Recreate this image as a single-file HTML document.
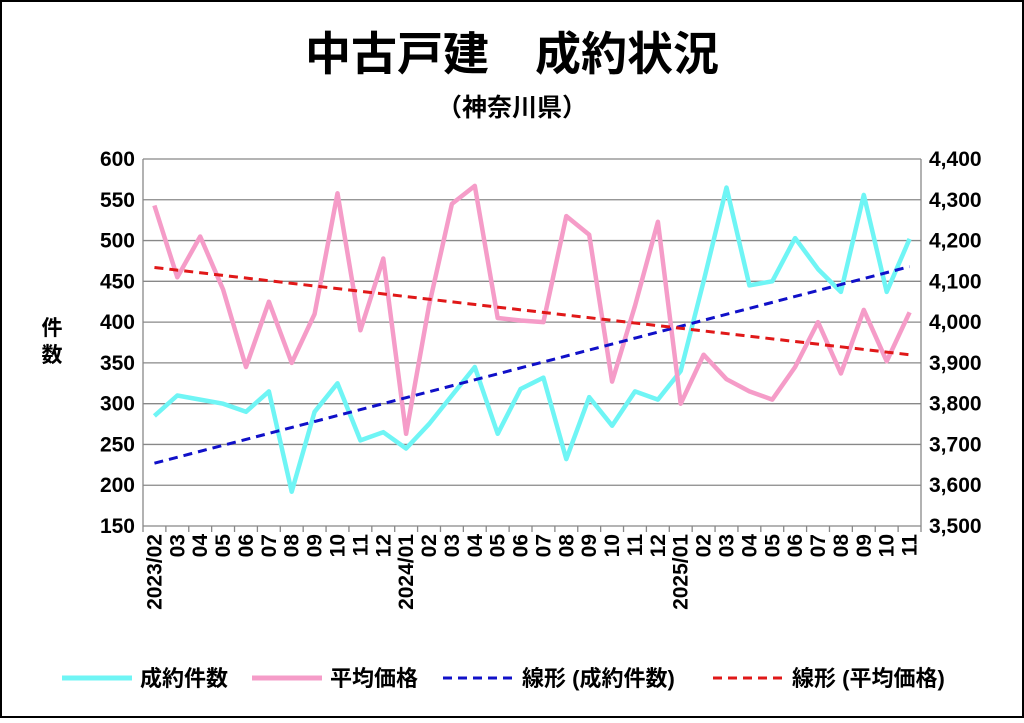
<!DOCTYPE html>
<html><head><meta charset="utf-8"><style>
body{margin:0;background:#fff}
svg text{font-family:"Liberation Sans","Noto Sans CJK JP",sans-serif;fill:#000}
</style></head><body>
<svg width="1024" height="718" viewBox="0 0 1024 718" xmlns="http://www.w3.org/2000/svg">
<rect x="1" y="1" width="1022" height="716" fill="#fff" stroke="#000" stroke-width="2"/>
<text x="512" y="70" font-size="46" font-weight="bold" text-anchor="middle">中古戸建　成約状況</text>
<text x="512" y="116" font-size="25" font-weight="bold" text-anchor="middle">（神奈川県）</text>
<g id="grid" stroke="#888" stroke-width="1.3"></g>
<g id="lab" font-size="21" font-weight="bold"></g>
<text x="52" y="335" font-size="21" font-weight="bold" text-anchor="middle">件</text>
<text x="52" y="362" font-size="21" font-weight="bold" text-anchor="middle">数</text>
<g id="series"></g>
<g font-size="22" font-weight="bold">
<line x1="62" y1="678" x2="132" y2="678" stroke="#6ff5f5" stroke-width="5"/>
<text x="140" y="686">成約件数</text>
<line x1="252" y1="678" x2="322" y2="678" stroke="#f59cc8" stroke-width="5"/>
<text x="330" y="686">平均価格</text>
<line x1="443" y1="678" x2="515" y2="678" stroke="#1010c8" stroke-width="3" stroke-dasharray="9,6"/>
<text x="522" y="686">線形 (成約件数)</text>
<line x1="713" y1="678" x2="785" y2="678" stroke="#e01818" stroke-width="3" stroke-dasharray="9,6"/>
<text x="792" y="686">線形 (平均価格)</text>
</g>
</svg>
<script>
const ns="http://www.w3.org/2000/svg";
function el(p,t,a,txt){const e=document.createElementNS(ns,t);for(const k in a)e.setAttribute(k,a[k]);if(txt!==undefined)e.textContent=txt;document.getElementById(p).appendChild(e);return e;}
const X0=143,X1=921,Y0=159,Y1=526;
const yv=v=>Y1-(v-150)/450*(Y1-Y0);
for(let i=0;i<=9;i++){const y=Y0+i*(Y1-Y0)/9;
 el("grid","line",{x1:X0,x2:X1,y1:y,y2:y});
 el("lab","text",{x:X0-8,y:y+7,"text-anchor":"end"},600-50*i);
 el("lab","text",{x:X1+8,y:y+7},(4400-100*i).toLocaleString("en-US"));}
el("grid","line",{x1:X0,x2:X0,y1:Y0,y2:Y1});
el("grid","line",{x1:X1,x2:X1,y1:Y0,y2:Y1});
const n=34,w=(X1-X0)/n,cx=i=>X0+w*(i+0.5);
for(let i=0;i<=n;i++)el("grid","line",{x1:X0+w*i,x2:X0+w*i,y1:Y1,y2:Y1+6});
const labs=[];
for(let i=0;i<n;i++){const m=(1+i)%12+1;const yr=2023+Math.floor((i+1)/12);
 labs.push(m==1?yr+"/01":(i==0?"2023/02":String(m).padStart(2,"0")));}
labs.forEach((t,i)=>{const x=cx(i)+7,y=Y1+8;el("lab","text",{x:x,y:y,"text-anchor":"end",transform:`rotate(-90 ${x} ${y})`},t);});
const cy=[285,310,305,300,290,315,192,290,325,255,265,245,275,310,345,263,318,332,232,308,273,315,305,340,450,565,445,450,503,465,437,556,437,502];
const pk=[543,455,505,440,345,425,350,410,558,390,478,263,420,545,567,405,402,400,530,507,327,420,523,300,360,330,315,305,345,400,337,415,352,412];
const pts=a=>a.map((v,i)=>cx(i).toFixed(1)+","+yv(v).toFixed(1)).join(" ");
el("series","polyline",{points:pts(cy),fill:"none",stroke:"#6ff5f5","stroke-width":4.5,"stroke-linejoin":"round"});
el("series","polyline",{points:pts(pk),fill:"none",stroke:"#f59cc8","stroke-width":4.5,"stroke-linejoin":"round"});
el("series","line",{x1:cx(0),y1:yv(227),x2:cx(33),y2:yv(468),stroke:"#1010c8","stroke-width":3,"stroke-dasharray":"9,6"});
el("series","line",{x1:cx(0),y1:yv(467),x2:cx(33),y2:yv(360),stroke:"#e01818","stroke-width":3,"stroke-dasharray":"9,6"});
</script>
</body></html>
